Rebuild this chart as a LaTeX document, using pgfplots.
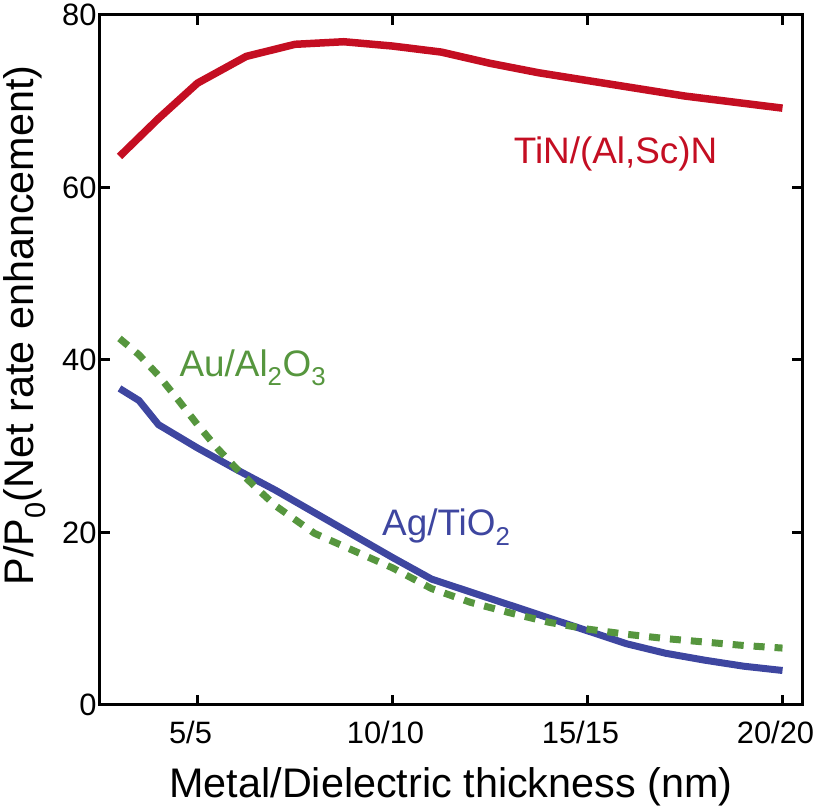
\documentclass[border=0pt]{standalone}
\usepackage{fontspec}
\setmainfont{Liberation Sans}
\usepackage{pgfplots}
\pgfplotsset{compat=1.18}
\definecolor{tinred}{RGB}{196,14,34}
\definecolor{agblue}{RGB}{62,70,160}
\definecolor{augreen}{RGB}{86,150,62}
\begin{document}
\begin{tikzpicture}
\begin{axis}[name=ax,
  scale only axis, width=702bp, height=690bp,
  xmin=2.5, xmax=20.5, ymin=0, ymax=80,
  xtick={5,10,15,20}, xticklabels={5/5,10/10,15/15,20/20},
  ytick={0,20,40,60,80},
  tick align=inside, major tick length=10bp,
  axis line style={line width=3bp},
  tick style={line width=3bp, black},
  /pgf/number format/assume math mode=true,
  ticklabel style={font=\fontsize{31}{36}\selectfont},
  xticklabel style={yshift=-13bp, xshift=-7bp},
  label style={font=\fontsize{41.5}{48}\selectfont},
  xlabel={Metal/Dielectric thickness (nm)},
  xlabel style={at={(axis description cs:0.5,0)}, anchor=base, yshift=-93bp},
  ylabel={P/P\textsubscript{0}(Net rate enhancement)},
  ylabel style={at={(axis description cs:-0.107,0.55)}, anchor=center},
  clip=false,
]
% TiN/(Al,Sc)N
\addplot[color=tinred, line width=7.5bp, line join=round] coordinates {
 (3,63.6) (4,68.0) (5,72.1) (6.25,75.2) (7.5,76.6) (8.75,76.9) (10,76.4)
 (11.25,75.7) (12.5,74.4) (13.75,73.3) (15,72.4) (16.25,71.5) (17.5,70.6)
 (18.75,69.9) (20,69.2)};
% Ag/TiO2
\addplot[color=agblue, line width=7bp, line join=round] coordinates {
 (3,36.7) (3.5,35.3) (4,32.5) (5,29.8) (6,27.3) (7,24.9) (8,22.3) (9,19.7)
 (10,17.1) (11,14.6) (12,13.1) (13,11.6) (14,10.1) (15,8.6) (16,7.1)
 (17,6.0) (18,5.2) (19,4.5) (20,4.0)};
% Au/Al2O3
\addplot[color=augreen, line width=7bp, dash pattern=on 11bp off 10bp] coordinates {
 (3,42.5) (3.5,40.6) (4,38.2) (4.5,35.4) (5,32.5) (5.5,29.8) (6,27.4)
 (6.5,25.2) (7,23.1) (8,19.9) (9,17.9) (10,15.9) (11,13.5) (12,11.9)
 (13,10.7) (14,9.6) (15,8.8) (16,8.2) (17,7.7) (18,7.3) (19,6.9) (20,6.6)};
\node[tinred, anchor=base, font=\fontsize{37}{44}\selectfont] at (axis cs:15.72,62.8) {TiN/(Al,Sc)N};
\node[augreen, anchor=base, font=\fontsize{37}{44}\selectfont] at (axis cs:6.42,38.1) {Au/Al\textsubscript{2}O\textsubscript{3}};
\node[agblue, anchor=base, font=\fontsize{37}{44}\selectfont] at (axis cs:11.38,19.6) {Ag/TiO\textsubscript{2}};
\end{axis}
\pgfresetboundingbox
\path ([shift={(-100bp,-107bp)}]ax.south west) rectangle ([shift={(18bp,15bp)}]ax.north east);
\end{tikzpicture}
\end{document}
